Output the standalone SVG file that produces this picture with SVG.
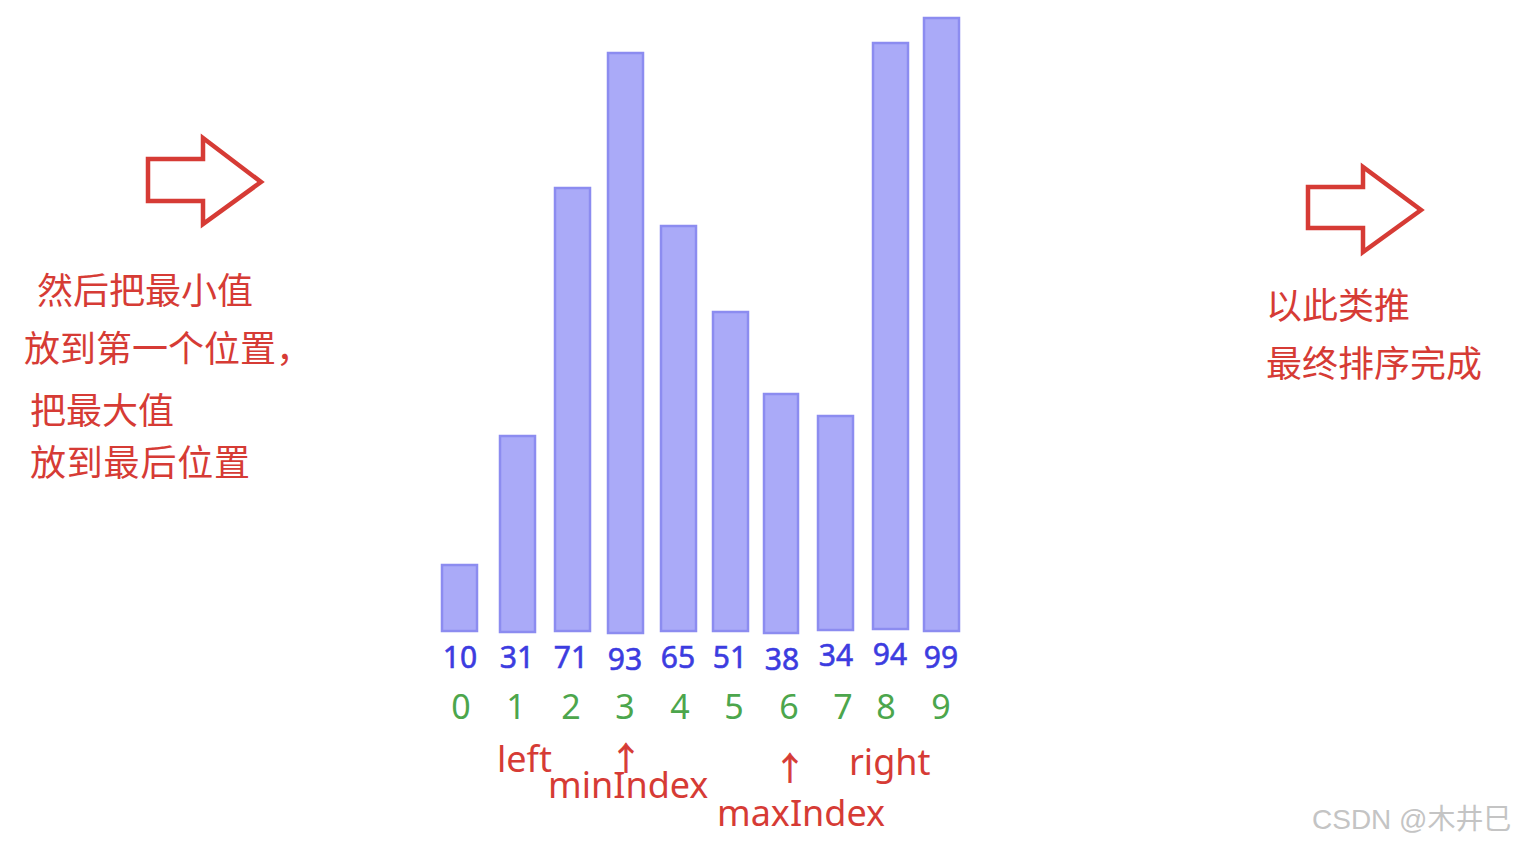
<svg xmlns="http://www.w3.org/2000/svg" width="1514" height="844" viewBox="0 0 1514 844">
<style>
.bar{fill:#aaaaf8;stroke:#8c8cf0;stroke-width:2.5}
.val{font-family:"Noto Sans","Liberation Sans",sans-serif;font-size:30px;fill:#3c3ce0;stroke:#3c3ce0;stroke-width:0.6;text-anchor:middle}
.idx{font-family:"Noto Sans","Liberation Sans",sans-serif;font-size:34px;fill:#4ca64c;text-anchor:middle}
.lbl{font-family:"Noto Sans","Liberation Sans",sans-serif;font-size:36px;fill:#d63b35}
.up{font-family:"Noto Sans CJK SC",sans-serif;font-size:32px;fill:#d63b35;stroke:#d63b35;stroke-width:0.8;text-anchor:middle}
.cn{font-family:"Noto Sans CJK SC","Noto Sans",sans-serif;font-size:36px;fill:#d63b35}
.big{fill:#ffffff;stroke:#d63b35;stroke-width:4.5;stroke-linejoin:miter}
.wm{font-family:"Liberation Sans","Noto Sans CJK SC",sans-serif;font-size:28px;fill:#c4c4c4}
</style>
<rect width="1514" height="844" fill="#ffffff"/>
<g id="arrow-left"><polygon class="big" points="148,159 203,159 203,138 261,182 203,224 203,201 148,201"/></g>
<g id="arrow-right"><polygon class="big" points="1308,187 1363,187 1363,167 1421,210 1363,252 1363,228 1308,228"/></g>
<g id="text-left">
<text class="cn" x="37" y="304">然后把最小值</text>
<text class="cn" x="24" y="362">放到第一个位置，</text>
<text class="cn" x="30" y="424">把最大值</text>
<text class="cn" x="30" y="476" textLength="220">放到最后位置</text>
</g>
<g id="text-right">
<text class="cn" x="1266" y="319">以此类推</text>
<text class="cn" x="1266" y="377">最终排序完成</text>
</g>
<g id="bars">
<rect class="bar" x="442" y="565" width="35" height="66"/>
<rect class="bar" x="500" y="436" width="35" height="196"/>
<rect class="bar" x="555" y="188" width="35" height="443"/>
<rect class="bar" x="608" y="53" width="35" height="580"/>
<rect class="bar" x="661" y="226" width="35" height="405"/>
<rect class="bar" x="713" y="312" width="35" height="319"/>
<rect class="bar" x="764" y="394" width="34" height="239"/>
<rect class="bar" x="818" y="416" width="35" height="214"/>
<rect class="bar" x="873" y="43" width="35" height="586"/>
<rect class="bar" x="924" y="18" width="35" height="613"/>
</g>
<g id="values">
<text class="val" x="460" y="668">10</text>
<text class="val" x="517" y="668">31</text>
<text class="val" x="571" y="668">71</text>
<text class="val" x="625" y="670">93</text>
<text class="val" x="678" y="668">65</text>
<text class="val" x="730" y="668">51</text>
<text class="val" x="782" y="670">38</text>
<text class="val" x="836" y="666">34</text>
<text class="val" x="890" y="665">94</text>
<text class="val" x="941" y="668">99</text>
</g>
<g id="indices">
<text class="idx" x="461" y="719">0</text>
<text class="idx" x="516" y="719">1</text>
<text class="idx" x="571" y="719">2</text>
<text class="idx" x="625" y="719">3</text>
<text class="idx" x="680" y="719">4</text>
<text class="idx" x="734" y="719">5</text>
<text class="idx" x="789" y="719">6</text>
<text class="idx" x="843" y="719">7</text>
<text class="idx" x="886" y="719">8</text>
<text class="idx" x="941" y="719">9</text>
</g>
<g id="pointers">
<text class="lbl" x="497" y="772">left</text>
<text class="up" x="626" y="770">↑</text>
<text class="lbl" x="548" y="798">minIndex</text>
<text class="up" x="790" y="780">↑</text>
<text class="lbl" x="849" y="775">right</text>
<text class="lbl" x="717" y="826">maxIndex</text>
</g>
<text class="wm" x="1312" y="829">CSDN @木井巳</text>
</svg>
